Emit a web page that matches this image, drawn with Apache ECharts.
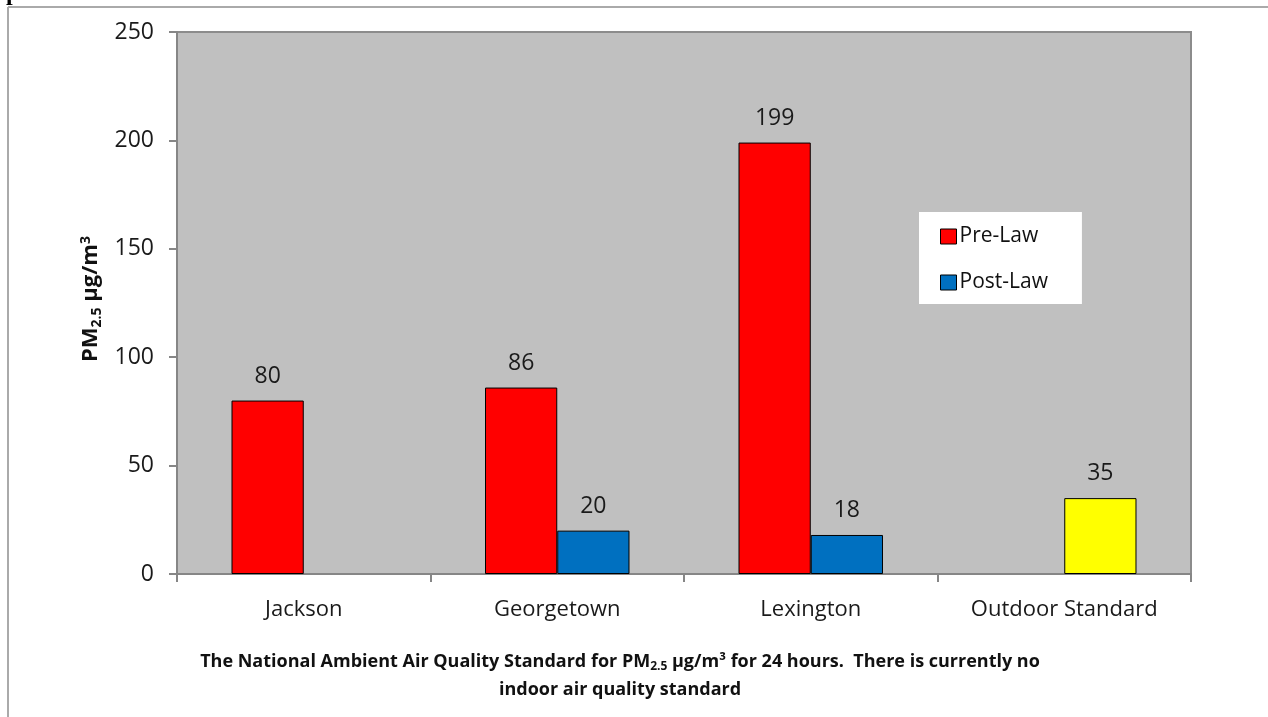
<!DOCTYPE html>
<html><head><meta charset="utf-8">
<script src="https://cdn.jsdelivr.net/npm/echarts@6/dist/echarts.min.js"></script>
<style>html,body{margin:0;padding:0;background:#fff}#c{width:1268px;height:717px}</style>
</head><body><div id="c"></div>
<script>
const categories = ['Jackson', 'Georgetown', 'Lexington', 'Outdoor Standard'];
const preLaw = [80, 86, 199, null];
const postLaw = [null, 20, 18, 35];
const yTicks = [0, 50, 100, 150, 200, 250];
const seriesNames = ['Pre-Law', 'Post-Law'];
const FONT = '"Open Sans", Lato, sans-serif';

const chart = echarts.init(document.getElementById('c'));
chart.setOption({
  animation: false,
  backgroundColor: '#fff',
  grid: { left: 177, right: 77, top: 32, bottom: 143, show: true, backgroundColor: '#c0c0c0', borderColor: '#8c8c8c', borderWidth: 2 },
  legend: {
    data: seriesNames, orient: 'vertical', left: 919, top: 212,
    backgroundColor: '#fff', padding: [14, 34, 11, 21],
    itemWidth: 16, itemHeight: 15, itemGap: 25,
    textStyle: { fontFamily: FONT, fontSize: 21, color: '#111', padding: [0, 0, 0, -2] },
    icon: 'rect',
    itemStyle: { borderColor: '#000', borderWidth: 1 }
  },
  xAxis: {
    type: 'category', data: categories,
    axisLine: { lineStyle: { color: '#868686', width: 2 } },
    axisTick: { show: true, interval: 0, length: 8, inside: false, lineStyle: { color: '#868686', width: 2 } },
    axisLabel: { interval: 0, hideOverlap: false, fontFamily: FONT, fontSize: 22, color: '#1a1a1a', margin: 25 }
  },
  yAxis: {
    type: 'value', min: 0, max: 250, interval: 50,
    splitLine: { show: false },
    axisLine: { show: true, lineStyle: { color: '#868686', width: 2 } },
    axisTick: { show: true, length: 8, lineStyle: { color: '#868686', width: 2 } },
    axisLabel: { fontFamily: FONT, fontSize: 23, color: '#1a1a1a', margin: 23, formatter: v => yTicks.includes(v) ? String(v) : '' },
    name: '{b|PM}{s|2.5}{b| µg/m}{p|3}',
    nameLocation: 'middle', nameGap: 70, nameRotate: 90,
    nameTextStyle: { padding: [0, 0, 0, 8], rich: {
      b: { fontFamily: FONT, fontWeight: 'bold', fontSize: 22, color: '#111' },
      s: { fontFamily: FONT, fontWeight: 'bold', fontSize: 14, color: '#111', verticalAlign: 'bottom', padding: [11, 0, 0, 0] },
      p: { fontFamily: FONT, fontWeight: 'bold', fontSize: 14, color: '#111', verticalAlign: 'top', padding: [0, 0, 11, 0] }
    } }
  },
  series: [
    { name: 'Pre-Law', type: 'bar', data: preLaw, barGap: '0%', barCategoryGap: '43%',
      itemStyle: { color: '#ff0000', borderColor: '#000', borderWidth: 1 },
      label: { show: true, position: 'top', distance: 13, fontFamily: FONT, fontSize: 23, color: '#1a1a1a' } },
    { name: 'Post-Law', type: 'bar', data: postLaw.map((v, i) => i === 3 ? { value: v, itemStyle: { color: '#ffff00' } } : v),
      barGap: '0%', barCategoryGap: '43%',
      itemStyle: { color: '#0070c0', borderColor: '#000', borderWidth: 1 },
      label: { show: true, position: 'top', distance: 13, fontFamily: FONT, fontSize: 23, color: '#1a1a1a' } }
  ],
  graphic: [
    { type: 'line', shape: { x1: 8, y1: 7, x2: 1268, y2: 7 }, style: { stroke: '#aaa', lineWidth: 2 } },
    { type: 'line', shape: { x1: 8, y1: 7, x2: 8, y2: 717 }, style: { stroke: '#aaa', lineWidth: 2 } },
    { type: 'text', x: 6, y: 6, style: { text: 'pose-law', font: 'bold 24px "Liberation Serif", serif', fill: '#000', verticalAlign: 'bottom' } },
    { type: 'text', x: 620, y: 662, style: {
      text: '{a|The National Ambient Air Quality Standard for PM}{s|2.5}{a| µg/m³ for 24 hours.  There is currently no}',
      align: 'center', verticalAlign: 'middle',
      rich: {
        a: { fontFamily: FONT, fontWeight: 'bold', fontSize: 18, fill: '#111' },
        s: { fontFamily: FONT, fontWeight: 'bold', fontSize: 12, fill: '#111', verticalAlign: 'bottom', padding: [9, 0, 0, 0] }
      } } },
    { type: 'text', x: 620, y: 690, style: {
      text: 'indoor air quality standard', align: 'center', verticalAlign: 'middle',
      font: 'bold 18px ' + FONT, fill: '#111' } }
  ]
});
</script></body></html>
